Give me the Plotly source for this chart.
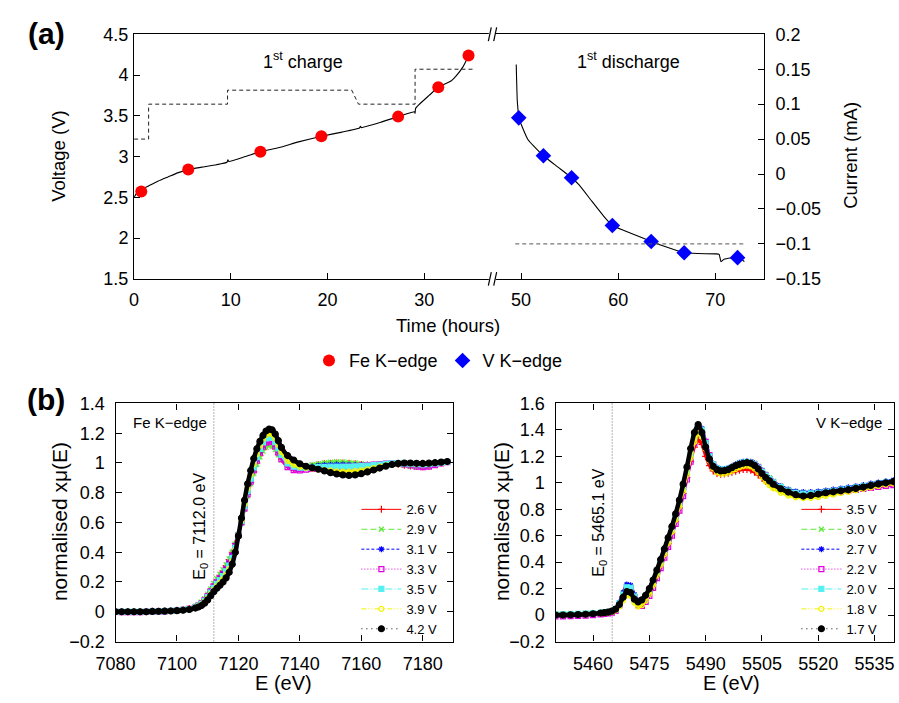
import plotly.graph_objects as go

W, H = 899, 703
def px(x):
    return x / W
def py(y):
    return 1 - y / H

FONT = "Liberation Sans, Arial, Helvetica, sans-serif"

# ---------------- Panel (a): cycling data ----------------
charge_t = [0.0, 0.2, 0.5, 1.0, 1.5, 2.5, 3.5, 4.5, 5.6, 7.0, 8.5, 9.6, 9.7, 9.8, 11.5, 13.1, 15.0,
            17.0, 19.4, 21.5, 23.3, 23.4, 23.5, 25.5, 27.3, 29.0, 29.05, 29.1, 29.3, 30.5, 31.45,
            32.3, 32.8, 33.3, 34.0, 34.6]
charge_v = [2.50, 2.54, 2.57, 2.61, 2.64, 2.70, 2.75, 2.80, 2.84, 2.87, 2.90, 2.93, 2.96, 2.94, 3.00,
            3.06, 3.11, 3.18, 3.25, 3.30, 3.35, 3.37, 3.355, 3.42, 3.49, 3.55, 3.53, 3.59, 3.62,
            3.75, 3.85, 3.90, 3.93, 3.99, 4.10, 4.24]
charge_cur_t = [0.0, 1.5, 1.5, 9.66, 9.66, 22.5, 23.2, 29.05, 29.05, 35.0]
charge_cur_i = [0.05, 0.05, 0.10, 0.10, 0.12, 0.12, 0.10, 0.10, 0.15, 0.15]

dis_t = [49.5, 49.55, 49.6, 49.7, 49.76, 50.7, 52.3, 53.8, 55.2, 56.0, 57.3, 58.5, 59.4, 61.3,
         63.4, 65.2, 66.8, 68.2, 70.1, 70.4, 70.6, 70.9, 71.6, 72.3, 72.7, 73.0]
dis_v = [4.13, 3.90, 3.70, 3.55, 3.475, 3.21, 3.01, 2.87, 2.74, 2.65, 2.45, 2.27, 2.155, 2.06,
         1.958, 1.88, 1.82, 1.81, 1.806, 1.80, 1.71, 1.74, 1.755, 1.76, 1.74, 1.71]
dis_cur_t = [49.4, 73.0]
dis_cur_i = [-0.10, -0.10]

fe_pts_t = [0.74, 5.6, 13.06, 19.36, 27.3, 31.45, 34.58]
fe_pts_v = [2.57, 2.84, 3.06, 3.25, 3.49, 3.85, 4.24]
v_pts_t = [49.76, 52.3, 55.2, 59.4, 63.4, 66.8, 72.3]
v_pts_v = [3.475, 3.01, 2.74, 2.155, 1.958, 1.82, 1.76]

time_ticks_left = [0, 10, 20, 30]
time_ticks_right = [50, 60, 70]
volt_ticks = [1.5, 2, 2.5, 3, 3.5, 4, 4.5]
volt_labels = ["1.5", "2", "2.5", "3", "3.5", "4", "4.5"]
cur_ticks = [-0.15, -0.1, -0.05, 0, 0.05, 0.1, 0.15, 0.2]
cur_labels = ["\u22120.15", "\u22120.1", "\u22120.05", "0", "0.05", "0.1", "0.15", "0.2"]

# ---------------- Panel (b): Fe K-edge XANES ----------------
fe_E = [7080, 7082, 7084, 7086, 7088, 7090, 7092, 7094, 7096, 7098, 7100, 7102, 7104,
        7106, 7107, 7108, 7109, 7110, 7111, 7112, 7113, 7114, 7115, 7116, 7117, 7118, 7119, 7120,
        7121, 7122, 7123, 7124, 7125, 7126, 7127, 7128, 7129, 7130, 7131, 7132, 7133, 7134,
        7136, 7138, 7140, 7142, 7144, 7146, 7148, 7150, 7152, 7154, 7156, 7158, 7160, 7162,
        7164, 7166, 7168, 7170, 7172, 7174, 7176, 7178, 7180, 7182, 7184, 7186, 7188]
fe_labels = ["2.6 V", "2.9 V", "3.1 V", "3.3 V", "3.5 V", "3.9 V", "4.2 V"]
fe_mu_26 = [0.0, 0.0, 0.0, 0.0, 0.0, 0.0, 0.003, 0.004, 0.005, 0.007, 0.010, 0.014, 0.022,
            0.035, 0.046, 0.062, 0.085, 0.115, 0.150, 0.185, 0.215, 0.245, 0.275, 0.310, 0.350, 0.400, 0.460, 0.530,
            0.61, 0.70, 0.79, 0.87, 0.94, 1.00, 1.05, 1.09, 1.115, 1.128, 1.12, 1.095, 1.06, 1.025,
            0.98, 0.962, 0.962, 0.97, 0.98, 0.988, 0.995, 0.998, 1.0, 1.0, 0.998, 0.995, 0.99, 0.987,
            0.985, 0.986, 0.99, 0.993, 0.99, 0.985, 0.98, 0.976, 0.975, 0.98, 0.99, 1.0, 1.008]
fe_mu_29 = [0.0, 0.0, 0.0, 0.0, 0.0, 0.001, 0.003, 0.004, 0.006, 0.008, 0.011, 0.015, 0.023,
            0.037, 0.048, 0.065, 0.088, 0.118, 0.153, 0.190, 0.222, 0.252, 0.282, 0.316, 0.355, 0.400, 0.455, 0.520,
            0.60, 0.69, 0.78, 0.86, 0.93, 0.99, 1.04, 1.08, 1.105, 1.118, 1.112, 1.09, 1.055, 1.02,
            0.982, 0.968, 0.97, 0.978, 0.988, 0.996, 1.002, 1.006, 1.008, 1.007, 1.004, 1.0, 0.995, 0.99,
            0.988, 0.988, 0.99, 0.992, 0.99, 0.984, 0.978, 0.972, 0.97, 0.975, 0.985, 0.997, 1.006]
fe_mu_31 = [0.0, 0.0, 0.0, 0.0, 0.0, 0.0, 0.002, 0.003, 0.005, 0.007, 0.009, 0.013, 0.020,
            0.033, 0.043, 0.058, 0.080, 0.108, 0.140, 0.172, 0.200, 0.228, 0.256, 0.290, 0.330, 0.380, 0.445, 0.520,
            0.61, 0.705, 0.80, 0.885, 0.96, 1.025, 1.08, 1.12, 1.148, 1.16, 1.152, 1.125, 1.085, 1.045,
            0.99, 0.968, 0.965, 0.97, 0.976, 0.982, 0.986, 0.988, 0.99, 0.99, 0.988, 0.986, 0.985, 0.985,
            0.986, 0.988, 0.992, 0.995, 0.995, 0.993, 0.99, 0.987, 0.986, 0.988, 0.993, 1.0, 1.007]
fe_mu_33 = [0.0, -0.002, -0.002, -0.002, -0.002, -0.001, 0.0, 0.001, 0.003, 0.005, 0.008, 0.012, 0.019,
            0.032, 0.042, 0.057, 0.079, 0.106, 0.138, 0.170, 0.198, 0.225, 0.254, 0.288, 0.328, 0.378, 0.440, 0.515,
            0.60, 0.695, 0.79, 0.875, 0.95, 1.015, 1.07, 1.11, 1.137, 1.15, 1.142, 1.112, 1.07, 1.025,
            0.972, 0.952, 0.95, 0.955, 0.96, 0.964, 0.967, 0.97, 0.972, 0.974, 0.976, 0.978, 0.982, 0.986,
            0.99, 0.993, 0.996, 0.997, 0.995, 0.99, 0.983, 0.976, 0.972, 0.975, 0.985, 0.997, 1.006]
fe_mu_35 = [0.0, 0.0, 0.0, 0.0, 0.0, 0.0, 0.002, 0.003, 0.004, 0.006, 0.008, 0.012, 0.018,
            0.030, 0.039, 0.053, 0.073, 0.099, 0.129, 0.160, 0.187, 0.213, 0.240, 0.272, 0.310, 0.360, 0.430, 0.515,
            0.61, 0.71, 0.81, 0.895, 0.97, 1.04, 1.095, 1.138, 1.165, 1.176, 1.168, 1.14, 1.098, 1.055,
            0.998, 0.975, 0.968, 0.968, 0.97, 0.972, 0.974, 0.975, 0.976, 0.976, 0.976, 0.977, 0.979, 0.982,
            0.986, 0.99, 0.994, 0.997, 0.998, 0.997, 0.995, 0.992, 0.991, 0.993, 0.997, 1.003, 1.008]
fe_mu_39 = [0.0, 0.0, 0.0, 0.0, 0.0, 0.0, 0.002, 0.003, 0.004, 0.005, 0.007, 0.011, 0.017,
            0.028, 0.036, 0.048, 0.066, 0.090, 0.118, 0.147, 0.172, 0.195, 0.220, 0.250, 0.288, 0.340, 0.415, 0.510,
            0.615, 0.725, 0.83, 0.92, 0.995, 1.06, 1.115, 1.16, 1.188, 1.20, 1.192, 1.165, 1.12, 1.075,
            1.015, 0.988, 0.975, 0.968, 0.963, 0.958, 0.953, 0.948, 0.944, 0.942, 0.942, 0.945, 0.95, 0.958,
            0.966, 0.975, 0.984, 0.992, 0.997, 0.999, 0.998, 0.995, 0.994, 0.996, 1.0, 1.005, 1.01]
fe_mu_42 = [0.0, 0.0, 0.0, 0.0, 0.0, 0.0, 0.002, 0.003, 0.004, 0.005, 0.007, 0.010, 0.015,
            0.025, 0.032, 0.042, 0.058, 0.080, 0.108, 0.135, 0.158, 0.178, 0.200, 0.228, 0.265, 0.320, 0.400, 0.510,
            0.63, 0.75, 0.86, 0.95, 1.03, 1.095, 1.145, 1.185, 1.215, 1.228, 1.222, 1.195, 1.15, 1.105,
            1.05, 1.02, 0.995, 0.978, 0.968, 0.958, 0.947, 0.935, 0.926, 0.92, 0.917, 0.92, 0.928, 0.94,
            0.953, 0.966, 0.979, 0.99, 0.997, 1.0, 1.0, 0.998, 0.997, 0.999, 1.002, 1.006, 1.01]
E0_FE = 7112.0
fe_ticks = [7080, 7100, 7120, 7140, 7160, 7180]
fe_y_ticks = [-0.2, 0, 0.2, 0.4, 0.6, 0.8, 1, 1.2, 1.4]
fe_y_labels = ["\u22120.2", "0", "0.2", "0.4", "0.6", "0.8", "1", "1.2", "1.4"]

# ---------------- Panel (b): V K-edge XANES ----------------
v_E = [5450, 5452, 5454, 5456, 5458, 5460, 5462,
       5463, 5464, 5465, 5466, 5467, 5468, 5469, 5470, 5471, 5472, 5473, 5474, 5475, 5476, 5477, 5478,
       5479, 5480, 5481, 5482, 5483, 5484, 5485, 5486, 5487, 5488, 5489, 5490, 5491, 5492, 5493, 5494,
       5495, 5496, 5497, 5498, 5499, 5500, 5501, 5502, 5503, 5504, 5505, 5506, 5507, 5508,
       5510, 5512, 5514, 5516, 5518, 5520, 5522, 5524, 5526, 5528, 5530, 5532, 5534, 5536, 5538, 5540]
v_labels = ["3.5 V", "3.0 V", "2.7 V", "2.2 V", "2.0 V", "1.8 V", "1.7 V"]
v_mu_35 = [0.0, 0.0, 0.002, 0.004, 0.006, 0.01, 0.014,
           0.017, 0.021, 0.028, 0.042, 0.078, 0.14, 0.195, 0.19, 0.135, 0.1, 0.105, 0.135, 0.18, 0.24, 0.31, 0.385,
           0.46, 0.54, 0.62, 0.71, 0.81, 0.92, 1.04, 1.16, 1.27, 1.325, 1.29, 1.2, 1.13, 1.09, 1.07, 1.065,
           1.067, 1.072, 1.08, 1.088, 1.095, 1.1, 1.1, 1.095, 1.08, 1.06, 1.035, 1.01, 0.99, 0.972,
           0.945, 0.925, 0.91, 0.905, 0.908, 0.915, 0.922, 0.93, 0.937, 0.945, 0.953, 0.962, 0.972, 0.982, 0.99, 0.998]
v_mu_30 = [0.01, 0.01, 0.012, 0.012, 0.014, 0.016, 0.018,
           0.02, 0.024, 0.03, 0.046, 0.09, 0.16, 0.22, 0.215, 0.15, 0.11, 0.115, 0.145, 0.19, 0.25, 0.325, 0.4,
           0.48, 0.56, 0.645, 0.735, 0.835, 0.95, 1.075, 1.21, 1.34, 1.425, 1.4, 1.3, 1.2, 1.14, 1.11, 1.1,
           1.1, 1.108, 1.12, 1.135, 1.148, 1.157, 1.162, 1.16, 1.148, 1.125, 1.095, 1.065, 1.038, 1.012,
           0.975, 0.95, 0.935, 0.928, 0.928, 0.932, 0.938, 0.945, 0.952, 0.96, 0.968, 0.977, 0.987, 0.997, 1.005, 1.012]
v_mu_27 = [0.0, 0.002, 0.004, 0.006, 0.008, 0.012, 0.016,
           0.019, 0.023, 0.03, 0.048, 0.095, 0.17, 0.232, 0.225, 0.155, 0.11, 0.112, 0.14, 0.185, 0.245, 0.32, 0.395,
           0.475, 0.555, 0.64, 0.73, 0.83, 0.945, 1.07, 1.21, 1.345, 1.435, 1.41, 1.31, 1.21, 1.145, 1.115, 1.105,
           1.105, 1.112, 1.125, 1.14, 1.152, 1.16, 1.163, 1.16, 1.148, 1.125, 1.095, 1.062, 1.035, 1.01,
           0.975, 0.95, 0.935, 0.93, 0.93, 0.935, 0.942, 0.95, 0.958, 0.966, 0.975, 0.984, 0.994, 1.003, 1.012, 1.02]
v_mu_22 = [-0.01, -0.01, -0.008, -0.006, -0.004, 0.0, 0.005,
           0.008, 0.012, 0.018, 0.032, 0.075, 0.145, 0.205, 0.2, 0.13, 0.075, 0.07, 0.1, 0.145, 0.205, 0.28, 0.355,
           0.435, 0.515, 0.6, 0.69, 0.79, 0.9, 1.025, 1.16, 1.3, 1.405, 1.4, 1.31, 1.21, 1.14, 1.105, 1.095,
           1.095, 1.102, 1.115, 1.13, 1.142, 1.15, 1.154, 1.152, 1.14, 1.118, 1.088, 1.056, 1.028, 1.002,
           0.965, 0.94, 0.922, 0.912, 0.912, 0.916, 0.922, 0.928, 0.934, 0.94, 0.947, 0.954, 0.962, 0.97, 0.976, 0.982]
v_mu_20 = [0.005, 0.006, 0.008, 0.01, 0.012, 0.014, 0.017,
           0.02, 0.024, 0.03, 0.046, 0.088, 0.155, 0.21, 0.205, 0.14, 0.1, 0.105, 0.138, 0.185, 0.245, 0.32, 0.398,
           0.478, 0.56, 0.645, 0.738, 0.84, 0.955, 1.08, 1.215, 1.345, 1.43, 1.4, 1.3, 1.2, 1.14, 1.11, 1.1,
           1.1, 1.106, 1.118, 1.132, 1.144, 1.152, 1.156, 1.153, 1.14, 1.115, 1.085, 1.055, 1.028, 1.003,
           0.968, 0.942, 0.925, 0.918, 0.92, 0.925, 0.932, 0.94, 0.948, 0.956, 0.965, 0.975, 0.985, 0.995, 1.003, 1.01]
v_mu_18 = [0.0, 0.0, 0.002, 0.004, 0.006, 0.009, 0.013,
           0.015, 0.018, 0.024, 0.036, 0.065, 0.11, 0.15, 0.145, 0.095, 0.065, 0.075, 0.11, 0.16, 0.225, 0.3, 0.38,
           0.46, 0.545, 0.63, 0.72, 0.82, 0.935, 1.06, 1.19, 1.31, 1.38, 1.35, 1.26, 1.17, 1.11, 1.08, 1.07,
           1.07, 1.078, 1.09, 1.105, 1.118, 1.127, 1.13, 1.125, 1.108, 1.08, 1.045, 1.01, 0.982, 0.958,
           0.925, 0.903, 0.89, 0.884, 0.886, 0.893, 0.902, 0.912, 0.922, 0.932, 0.943, 0.954, 0.965, 0.976, 0.986, 0.995]
v_mu_17 = [0.0, 0.0, 0.002, 0.004, 0.006, 0.01, 0.015,
           0.018, 0.022, 0.03, 0.045, 0.08, 0.135, 0.178, 0.17, 0.12, 0.1, 0.115, 0.15, 0.2, 0.265, 0.34, 0.42,
           0.5, 0.585, 0.67, 0.765, 0.87, 0.99, 1.12, 1.26, 1.38, 1.44, 1.38, 1.27, 1.18, 1.125, 1.1, 1.09,
           1.092, 1.1, 1.115, 1.13, 1.14, 1.148, 1.152, 1.148, 1.132, 1.105, 1.07, 1.04, 1.015, 0.99,
           0.955, 0.93, 0.91, 0.9, 0.905, 0.915, 0.925, 0.932, 0.94, 0.948, 0.958, 0.968, 0.98, 0.992, 1.0, 1.01]
E0_V = 5465.1
v_ticks = [5460, 5475, 5490, 5505, 5520, 5535]
v_y_ticks = [-0.2, 0, 0.2, 0.4, 0.6, 0.8, 1, 1.2, 1.4, 1.6]
v_y_labels = ["\u22120.2", "0", "0.2", "0.4", "0.6", "0.8", "1", "1.2", "1.4", "1.6"]

# ---------------- styles ----------------
series_colors = ["#ff0000", "#5ee83a", "#0000ff", "#e000e0", "#55f0f0", "#f2f200", "#000000"]
series_symbols = ["cross-thin-open", "x-thin-open", "asterisk-open", "square-open", "square",
                  "circle-open", "circle"]
series_dash = ["solid", "6px,3px", "3px,2px", "1px,2px", "7px,2px,1px,2px", "5px,2px,1px,2px,1px,2px", "1px,4px"]

fig = go.Figure()

# Panel (a) traces
fig.add_trace(go.Scatter(x=charge_cur_t, y=charge_cur_i, mode="lines", xaxis="x", yaxis="y2",
                         line=dict(color="#222", width=1, dash="4px,3px"), showlegend=False))
fig.add_trace(go.Scatter(x=dis_cur_t, y=dis_cur_i, mode="lines", xaxis="x2", yaxis="y2",
                         line=dict(color="#555", width=1, dash="4px,3px"), showlegend=False))
fig.add_trace(go.Scatter(x=charge_t, y=charge_v, mode="lines", xaxis="x", yaxis="y",
                         line=dict(color="black", width=1.1, shape="spline", smoothing=0.4),
                         showlegend=False))
fig.add_trace(go.Scatter(x=dis_t, y=dis_v, mode="lines", xaxis="x2", yaxis="y",
                         line=dict(color="black", width=1.1, shape="spline", smoothing=0.4),
                         showlegend=False))
fig.add_trace(go.Scatter(x=fe_pts_t, y=fe_pts_v, mode="markers", xaxis="x", yaxis="y",
                         marker=dict(symbol="circle", size=12, color="#ff0000"),
                         name="Fe K\u2212edge", legend="legend"))
fig.add_trace(go.Scatter(x=v_pts_t, y=v_pts_v, mode="markers", xaxis="x2", yaxis="y",
                         marker=dict(symbol="diamond", size=12, color="#0000ff"),
                         name="V K\u2212edge", legend="legend"))

# Panel (b) traces: a dense band (many overlapping points in the original) plus the point series
fe_series = [fe_mu_26, fe_mu_29, fe_mu_31, fe_mu_33, fe_mu_35, fe_mu_39, fe_mu_42]
v_series = [v_mu_35, v_mu_30, v_mu_27, v_mu_22, v_mu_20, v_mu_18, v_mu_17]
for i in range(7):
    size = 6 if i == 6 else 5
    band_w = 4.5 if i == 6 else 3
    for E, mu, lab, xa, ya, lg in [(fe_E, fe_series[i], fe_labels[i], "x3", "y3", "legend2"),
                                   (v_E, v_series[i], v_labels[i], "x4", "y4", "legend3")]:
        fig.add_trace(go.Scatter(
            x=E, y=mu, mode="lines", xaxis=xa, yaxis=ya, showlegend=False, hoverinfo="skip",
            line=dict(color=series_colors[i], width=band_w, shape="spline", smoothing=0.5)))
        fig.add_trace(go.Scatter(
            x=E, y=mu, mode="lines+markers", xaxis=xa, yaxis=ya, name=lab, legend=lg,
            line=dict(color=series_colors[i], width=1, dash=series_dash[i]),
            marker=dict(symbol=series_symbols[i], size=size, color=series_colors[i],
                        line=dict(color=series_colors[i], width=1.2))))

axis_common = dict(showline=True, linecolor="black", linewidth=1.2, ticks="inside", ticklen=6,
                   tickwidth=1, tickcolor="black", showgrid=False, zeroline=False,
                   tickfont=dict(family=FONT, size=18, color="black"))

layout = dict(
    width=W, height=H, margin=dict(l=0, r=0, t=0, b=0),
    plot_bgcolor="white", paper_bgcolor="white",
    font=dict(family=FONT, color="black"),
    xaxis=dict(domain=[px(116.7), px(482.7)], range=[0, 37], anchor="y", mirror=True,
               tickmode="array", tickvals=time_ticks_left, ticklabelstandoff=4, **axis_common),
    xaxis2=dict(domain=[px(482.7), px(760.7)], range=[47, 75], anchor="y", mirror=True,
                tickmode="array", tickvals=time_ticks_right, ticklabelstandoff=4, **axis_common),
    yaxis=dict(domain=[py(276.7), py(25)], range=[1.5, 4.5], anchor="x",
               tickmode="array", tickvals=volt_ticks, ticktext=volt_labels, ticklabelstandoff=1,
               **axis_common),
    yaxis2=dict(overlaying="y", side="right", anchor="x2", range=[-0.15, 0.2],
                tickmode="array", tickvals=cur_ticks, ticktext=cur_labels, ticklabelstandoff=7,
                **axis_common),
    xaxis3=dict(domain=[px(97.7), px(443.3)], range=[7080, 7190], anchor="y3", mirror="ticks",
                tickmode="array", tickvals=fe_ticks, ticklabelstandoff=6, **axis_common),
    yaxis3=dict(domain=[py(650), py(405)], range=[-0.2, 1.4], anchor="x3", mirror="ticks",
                tickmode="array", tickvals=fe_y_ticks, ticktext=fe_y_labels, ticklabelstandoff=6,
                **axis_common),
    xaxis4=dict(domain=[px(547.7), px(894)], range=[5450, 5540.2], anchor="y4", mirror="ticks",
                tickmode="array", tickvals=v_ticks, ticklabelstandoff=6, **axis_common),
    yaxis4=dict(domain=[py(650), py(405)], range=[-0.2, 1.6], anchor="x4", mirror="ticks",
                tickmode="array", tickvals=v_y_ticks, ticktext=v_y_labels, ticklabelstandoff=6,
                **axis_common),
    legend=dict(orientation="h", x=px(428), xanchor="center", y=py(361), yanchor="middle",
                font=dict(family=FONT, size=18, color="black"), bgcolor="rgba(0,0,0,0)",
                itemwidth=30),
    legend2=dict(x=px(432), xanchor="right", y=py(653), yanchor="bottom",
                 font=dict(family=FONT, size=13, color="black"), bgcolor="rgba(0,0,0,0)",
                 itemwidth=40, tracegroupgap=0),
    legend3=dict(x=px(882), xanchor="right", y=py(653), yanchor="bottom",
                 font=dict(family=FONT, size=13, color="black"), bgcolor="rgba(0,0,0,0)",
                 itemwidth=40, tracegroupgap=0),
)
fig.update_layout(**layout)

# E0 reference lines
fig.add_shape(type="line", xref="x3", yref="y3 domain", x0=E0_FE, x1=E0_FE, y0=0, y1=1,
              line=dict(color="#666", width=1, dash="1px,2px"), layer="below")
fig.add_shape(type="line", xref="x4", yref="y4 domain", x0=E0_V, x1=E0_V, y0=0, y1=1,
              line=dict(color="#666", width=1, dash="1px,2px"), layer="below")

# axis break marks "//"
for yb in (25, 276.7):
    fig.add_shape(type="line", xref="paper", yref="paper", x0=px(479.5), x1=px(486.5),
                  y0=py(yb), y1=py(yb), line=dict(color="white", width=4))
    for xo in (479.0, 484.5):
        fig.add_shape(type="line", xref="paper", yref="paper", x0=px(xo), x1=px(xo + 3),
                      y0=py(yb + 7), y1=py(yb - 7), line=dict(color="black", width=1.2))

def ann(text, x, y, size, angle=0, bold=False, xanchor="center"):
    if bold:
        text = "<b>" + text + "</b>"
    fig.add_annotation(text=text, x=px(x), y=py(y), xref="paper", yref="paper",
                       showarrow=False, textangle=angle, xanchor=xanchor, yanchor="middle",
                       font=dict(family=FONT, size=size, color="black"))

ann("(a)", 27, 24, 30, bold=True)
ann("(b)", 27, 401, 30, bold=True)
ann("1<sup>st</sup> charge", 289, 52, 18)
ann("1<sup>st</sup> discharge", 622, 52, 18)
ann("Voltage (V)", 40, 150, 18.5, angle=-90)
ann("Current (mA)", 850, 150, 18.5, angle=-90)
ann("Time (hours)", 438, 325, 18.5)
ann("normalised x\u03bc(E)", 40, 527, 21, angle=-90)
ann("normalised x\u03bc(E)", 492, 527, 21, angle=-90)
ann("E (eV)", 270, 693, 20)
ann("E (eV)", 728, 693, 20)
ann("Fe K\u2212edge", 153, 425, 15)
ann("V K\u2212edge", 848, 425, 15)
ann("E<sub>0</sub> = 7112.0 eV", 185, 531, 16, angle=-90)
ann("E<sub>0</sub> = 5465.1 eV", 593, 528, 16, angle=-90)

fig.write_html("out.html")
